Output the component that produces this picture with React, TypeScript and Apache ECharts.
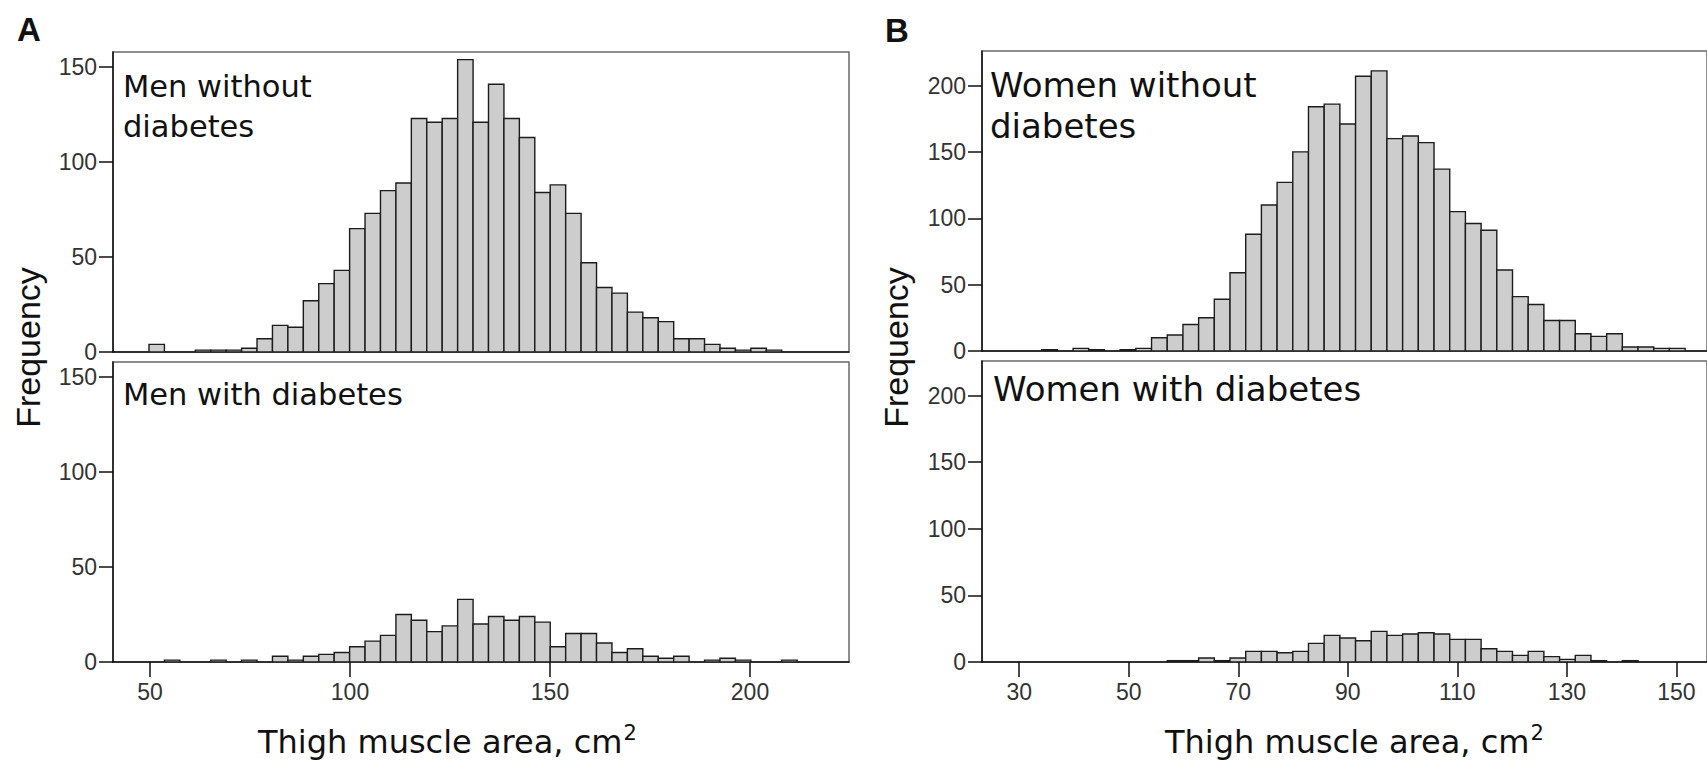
import React, { useEffect, useRef } from "react";
import * as echarts from "echarts";

// Histogram bins (SPSS-style): start of first bin and bin width, in cm²
const menBinStart = 49.75;
const menBinWidth = 3.858;
const womenBinStart = 34.1;
const womenBinWidth = 2.866;

// Frequencies per bin
const menWithout = [4, 0, 0, 1, 1, 1, 2, 7, 14, 13, 27, 36, 43, 65, 73, 85, 89, 123, 121, 123, 154, 121, 141, 123, 113, 84, 88, 73, 47, 34, 31, 21, 18, 16, 7, 7, 4, 2, 1, 2, 1];
const menWith = [0, 1, 0, 0, 1, 0, 1, 0, 3, 1, 3, 4, 5, 8, 11, 14, 25, 22, 16, 19, 33, 20, 24, 22, 24, 21, 8, 15, 15, 10, 5, 7, 3, 2, 3, 0, 1, 2, 1, 0, 0, 1];
const womenWithout = [1, 0, 2, 1, 0, 1, 2, 10, 12, 20, 25, 39, 59, 88, 110, 127, 150, 184, 186, 171, 207, 211, 160, 162, 157, 137, 105, 96, 91, 61, 41, 35, 23, 23, 13, 11, 13, 3, 3, 2, 2];
const womenWith = [0, 0, 0, 0, 0, 0, 0, 0, 1, 1, 3, 1, 3, 8, 8, 7, 8, 14, 20, 18, 16, 23, 20, 21, 22, 21, 17, 17, 10, 8, 5, 8, 4, 2, 5, 1, 0, 1];

// Axis ticks
const menXTicks = [50, 100, 150, 200];
const womenXTicks = [30, 50, 70, 90, 110, 130, 150];
const menYTicks = [0, 50, 100, 150];
const womenYTicks = [0, 50, 100, 150, 200];

// Texts
const panelLetters = ["A", "B"];
const menTopLabel = ["Men without", "diabetes"];
const menBottomLabel = "Men with diabetes";
const womenTopLabel = ["Women without", "diabetes"];
const womenBottomLabel = "Women with diabetes";
const yTitle = "Frequency";
const xTitle = "Thigh muscle area, cm";
const xTitleSup = "2";

function toBins(counts: number[], start: number, width: number) {
  const out: number[][] = [];
  counts.forEach((c, i) => {
    if (c > 0) out.push([start + i * width, start + (i + 1) * width, c]);
  });
  return out;
}

const SANS = "'Liberation Sans', Arial, sans-serif";
const WIDE = "'DejaVu Sans', sans-serif";

function measure(text: string, font: string) {
  const c = document.createElement("canvas");
  const ctx = c.getContext("2d")!;
  ctx.font = font;
  return ctx.measureText(text).width;
}

export default function App() {
  const ref = useRef<HTMLDivElement>(null);

  useEffect(() => {
    if (!ref.current) return;
    const chart = echarts.init(ref.current, undefined, { renderer: "svg" });

    const grids = [
      { left: 113, top: 52, width: 736, height: 300 },
      { left: 113, top: 362, width: 736, height: 300 },
      { left: 982, top: 51, width: 728, height: 300 },
      { left: 982, top: 361, width: 728, height: 301 },
    ].map((g) => ({
      ...g,
      show: true,
      borderColor: "#6a6a6a",
      borderWidth: 1.5,
      backgroundColor: "#fff",
      containLabel: false,
    }));

    const xAxis = (gi: number, min: number, max: number, ticks: number[], show: boolean) => ({
      type: "value",
      gridIndex: gi,
      min,
      max,
      axisLine: { show: true, onZero: false, lineStyle: { color: "#111", width: 1.5 } },
      axisTick: { show, customValues: ticks, length: 15, inside: false, lineStyle: { color: "#111", width: 1.5 } },
      axisLabel: { show, customValues: ticks, fontSize: 23, color: "#333", margin: 18, fontFamily: SANS },
      splitLine: { show: false },
    });
    const yAxis = (gi: number, max: number, ticks: number[]) => ({
      type: "value",
      gridIndex: gi,
      min: 0,
      max,
      axisLine: { show: true, onZero: false, lineStyle: { color: "#111", width: 1.5 } },
      axisTick: { show: true, customValues: ticks, length: 14, inside: false, lineStyle: { color: "#111", width: 1.5 } },
      axisLabel: { show: true, customValues: ticks, fontSize: 23, color: "#333", margin: 16, fontFamily: SANS },
      splitLine: { show: false },
    });

    const menXMin = 40.75, menXMax = 224.75;
    const womenXMin = 23.2, womenXMax = 155.6;

    const renderItem = (params: any, api: any) => {
      const x0 = api.value(0);
      const x1 = api.value(1);
      const v = api.value(2);
      const p0 = api.coord([x0, v]);
      const p1 = api.coord([x1, 0]);
      return {
        type: "rect",
        shape: { x: p0[0], y: p0[1], width: p1[0] - p0[0], height: p1[1] - p0[1] },
        style: { fill: "#cdcdcd", stroke: "#1c1c1c", lineWidth: 1.4 },
      };
    };
    const hist = (idx: number, data: number[][]) => ({
      type: "custom",
      xAxisIndex: idx,
      yAxisIndex: idx,
      renderItem,
      clip: true,
      encode: { x: [0, 1], y: 2 },
      data,
      silent: true,
    });

    const titleFont = 32;
    const titleW = measure(xTitle, `${titleFont}px ${WIDE}`);
    const titleAX = 258;
    const titleBX = 1165;

    const txt = (text: string, x: number, y: number, size: number, family: string, extra: any = {}) => ({
      type: "text",
      x,
      y,
      silent: true,
      style: {
        text,
        fontSize: size,
        fontFamily: family,
        fill: "#111",
        align: "left",
        verticalAlign: "middle",
        ...extra,
      },
    });

    chart.setOption({
      animation: false,
      backgroundColor: "#fff",
      grid: grids,
      xAxis: [
        xAxis(0, menXMin, menXMax, menXTicks, false),
        xAxis(1, menXMin, menXMax, menXTicks, true),
        xAxis(2, womenXMin, womenXMax, womenXTicks, false),
        xAxis(3, womenXMin, womenXMax, womenXTicks, true),
      ],
      yAxis: [
        yAxis(0, 158, menYTicks),
        yAxis(1, 158, menYTicks),
        yAxis(2, 226, womenYTicks),
        yAxis(3, 226, womenYTicks),
      ],
      series: [
        hist(0, toBins(menWithout, menBinStart, menBinWidth)),
        hist(1, toBins(menWith, menBinStart, menBinWidth)),
        hist(2, toBins(womenWithout, womenBinStart, womenBinWidth)),
        hist(3, toBins(womenWith, womenBinStart, womenBinWidth)),
      ],
      graphic: [
        txt(panelLetters[0], 17, 29.5, 33, SANS, { fontWeight: "bold" }),
        txt(panelLetters[1], 885, 30, 33, SANS, { fontWeight: "bold" }),
        {
          type: "text",
          x: 27.5,
          y: 347.5,
          rotation: Math.PI / 2,
          silent: true,
          style: { text: yTitle, fontSize: 34, fontFamily: SANS, fill: "#111", align: "center", verticalAlign: "middle" },
        },
        {
          type: "text",
          x: 896,
          y: 347.5,
          rotation: Math.PI / 2,
          silent: true,
          style: { text: yTitle, fontSize: 34, fontFamily: SANS, fill: "#111", align: "center", verticalAlign: "middle" },
        },
        txt(menTopLabel[0], 123, 86, 30.5, WIDE),
        txt(menTopLabel[1], 123, 126.8, 30.5, WIDE),
        txt(menBottomLabel, 123, 394, 30.5, WIDE),
        txt(womenTopLabel[0], 990, 85, 34, WIDE),
        txt(womenTopLabel[1], 990, 126, 34, WIDE),
        txt(womenBottomLabel, 993, 388.5, 34, WIDE),
        txt(xTitle, titleAX, 741.5, titleFont, WIDE),
        txt(xTitleSup, titleAX + titleW + 1, 732.5, 21, WIDE),
        txt(xTitle, titleBX, 741.5, titleFont, WIDE),
        txt(xTitleSup, titleBX + titleW + 1, 732.5, 21, WIDE),
      ],
    });

    return () => chart.dispose();
  }, []);

  return (
    <div
      ref={ref}
      style={{ position: "fixed", left: 0, top: 0, width: 1707, height: 762, background: "#fff" }}
    />
  );
}
